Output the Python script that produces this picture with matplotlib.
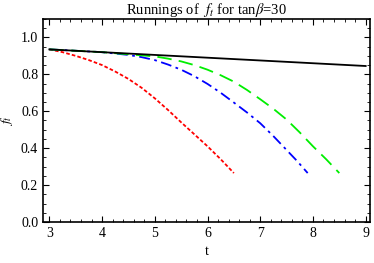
# Runnings of f_t for tan(beta)=30
import matplotlib
matplotlib.use("Agg")
import matplotlib.pyplot as plt
from matplotlib.ticker import MultipleLocator, FormatStrFormatter

t_black = [3.0, 9.0]
f_black = [0.935, 0.845]

t_red = [3.0, 3.25, 3.5, 3.75, 4.0, 4.25, 4.5, 4.75, 5.0, 5.25, 5.5, 5.75, 6.0, 6.25, 6.5]
f_red = [0.935, 0.92, 0.90, 0.877, 0.85, 0.815, 0.775, 0.727, 0.67, 0.607, 0.54, 0.475, 0.41, 0.34, 0.265]

t_blue = [3.0, 4.0, 4.5, 4.75, 5.0, 5.25, 5.5, 5.75, 6.0, 6.25, 6.5, 6.75, 7.0, 7.25, 7.5, 7.7, 7.9]
f_blue = [0.935, 0.92, 0.905, 0.893, 0.877, 0.853, 0.825, 0.79, 0.748, 0.70, 0.647, 0.593, 0.535, 0.465, 0.39, 0.33, 0.265]

t_green = [3.0, 4.0, 5.0, 5.25, 5.5, 5.75, 6.0, 6.25, 6.5, 6.75, 7.0, 7.25, 7.5, 7.75, 8.0, 8.25, 8.5]
f_green = [0.935, 0.92, 0.897, 0.885, 0.87, 0.85, 0.825, 0.795, 0.76, 0.715, 0.665, 0.613, 0.555, 0.485, 0.41, 0.34, 0.265]

plt.rcParams['font.family'] = ['Liberation Serif', 'DejaVu Serif']
plt.rcParams['mathtext.fontset'] = 'stix'

fig = plt.figure(figsize=(3.74, 2.63), dpi=100)
ax = fig.add_axes([0.115, 0.156, 0.874, 0.772])

ax.plot(t_red, f_red, color='red', lw=1.3, dashes=(2, 1.2))
ax.plot(t_blue, f_blue, color='blue', lw=1.3, dashes=(6, 2.5, 1.5, 2.5))
ax.plot(t_green, f_green, color='#00ee00', lw=1.3, dashes=(8, 4))
ax.plot(t_black, f_black, color='black', lw=1.3)

ax.set_xlim(2.88, 9.08)
ax.set_ylim(0, 1.1)
ax.xaxis.set_major_locator(MultipleLocator(1))
ax.xaxis.set_minor_locator(MultipleLocator(0.2))
ax.yaxis.set_major_locator(MultipleLocator(0.2))
ax.yaxis.set_minor_locator(MultipleLocator(0.05))
ax.yaxis.set_major_formatter(FormatStrFormatter('%.1f'))
ax.tick_params(which='both', direction='in', top=True, right=True, labelsize=10)
ax.tick_params(which='major', length=4)
ax.tick_params(which='minor', length=2)
for s in ax.spines.values():
    s.set_linewidth(1.2)

ax.set_title(r'Runnings of  $f_t$ for tan$\beta$=30', fontsize=10.5, pad=2)
ax.set_xlabel('t', fontsize=10)
ax.set_ylabel(r'$f_t$', fontsize=10)

fig.savefig('out.png', dpi=100)
